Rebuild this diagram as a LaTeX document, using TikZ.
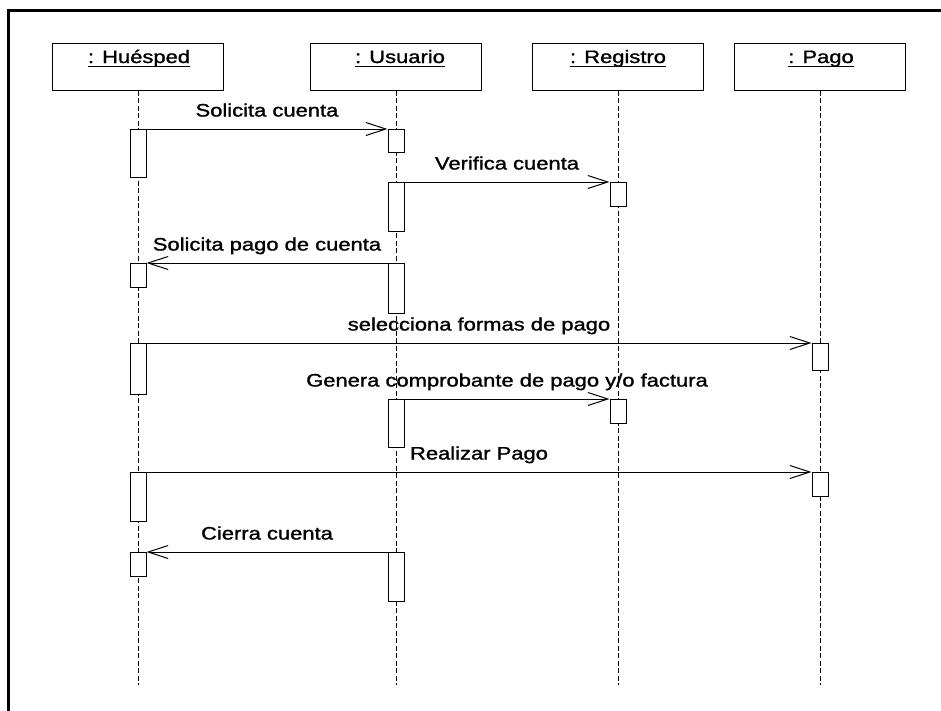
\documentclass[tikz,border=0pt]{standalone}
\usepackage{fontspec}
\setmainfont{Liberation Sans}
\newfontfamily\lblfont{Liberation Sans}[FakeBold=1.2]
\usepackage{graphicx}
\usetikzlibrary{arrows.meta}
\newcommand{\wtxt}[1]{\scalebox{1.22}[1]{#1}}
\begin{document}
\begin{tikzpicture}[x=1pt,y=-1pt,
  obj/.style={draw, line width=1pt, minimum width=171pt, minimum height=47pt, inner sep=0pt},
  olbl/.style={inner sep=0pt, anchor=base, font=\lblfont\fontsize{18}{20}\selectfont},
  act/.style={draw, fill=white, line width=1pt, minimum width=16pt, inner sep=0pt, anchor=north},
  life/.style={line width=0.9pt, dash pattern=on 5pt off 2.5pt},
  msg/.style={line width=1pt, -{Straight Barb[length=20pt,width=13pt,line width=1pt]}},
  mlbl/.style={inner sep=0pt, anchor=base, yshift=12.5pt, font=\lblfont\fontsize{18}{20}\selectfont},
  framel/.style={line width=3pt}]
\useasboundingbox (0,0) rectangle (941,710);
% frame
\coordinate (fBL) at (8,712);
\coordinate (fTL) at (8,10);
\coordinate (fTR) at (943,10);
\draw[framel] (fBL) -- (fTL) -- (fTR);
% objects
\node[obj] (H) at (138,66.5) {};
\node[obj] (U) at (396,66.5) {};
\node[obj] (R) at (618,66.5) {};
\node[obj] (P) at (820,66.5) {};
\node[olbl] (Hl) at (139,63) {\wtxt{: Huésped}};
\node[olbl] (Ul) at (400,63) {\wtxt{: Usuario}};
\node[olbl] (Rl) at (618,63) {\wtxt{: Registro}};
\node[olbl] (Pl) at (821,63) {\wtxt{: Pago}};
\foreach \n in {Hl,Ul,Rl,Pl}
  \draw[line width=1pt] ([yshift=-3pt]\n.base west) -- ([yshift=-3pt]\n.base east);
% lifelines
\coordinate (He) at (138,685);
\coordinate (Ue) at (396,685);
\coordinate (Re) at (618,685);
\coordinate (Pe) at (820,685);
\draw[life] (H.south) -- (He);
\draw[life] (U.south) -- (Ue);
\draw[life] (R.south) -- (Re);
\draw[life] (P.south) -- (Pe);
% activations
\node[act, minimum height=48pt] (h1) at (138,129) {};
\node[act, minimum height=24pt] (h2) at (138,263) {};
\node[act, minimum height=51pt] (h3) at (138,343) {};
\node[act, minimum height=49pt] (h4) at (138,472) {};
\node[act, minimum height=24pt] (h5) at (138,552) {};
\node[act, minimum height=23pt] (u1) at (396,129) {};
\node[act, minimum height=49pt] (u2) at (396,182) {};
\node[act, minimum height=50pt] (u3) at (396,263) {};
\node[act, minimum height=48pt] (u4) at (396,399) {};
\node[act, minimum height=49pt] (u5) at (396,552) {};
\node[act, minimum height=24pt] (r1) at (618,182) {};
\node[act, minimum height=24pt] (r2) at (618,399) {};
\node[act, minimum height=27pt] (p1) at (820,343) {};
\node[act, minimum height=24pt] (p2) at (820,472) {};
% messages
\draw[msg] (h1.north east) -- (u1.north west) node[mlbl, midway] (m1) {\wtxt{Solicita cuenta}};
\draw[msg] (u2.north east) -- (r1.north west) node[mlbl, midway] (m2) {\wtxt{Verifica cuenta}};
\draw[msg] (u3.north west) -- (h2.north east) node[mlbl, midway] (m3) {\wtxt{Solicita pago de cuenta}};
\draw[msg] (h3.north east) -- (p1.north west) node[mlbl, midway] (m4) {\wtxt{selecciona formas de pago}};
\draw[msg] (u4.north east) -- (r2.north west) node[mlbl, midway] (m5) {\wtxt{Genera comprobante de pago y/o factura}};
\draw[msg] (h4.north east) -- (p2.north west) node[mlbl, midway] (m6) {\wtxt{Realizar Pago}};
\draw[msg] (u5.north west) -- (h5.north east) node[mlbl, midway] (m7) {\wtxt{Cierra cuenta}};
\end{tikzpicture}
\end{document}
